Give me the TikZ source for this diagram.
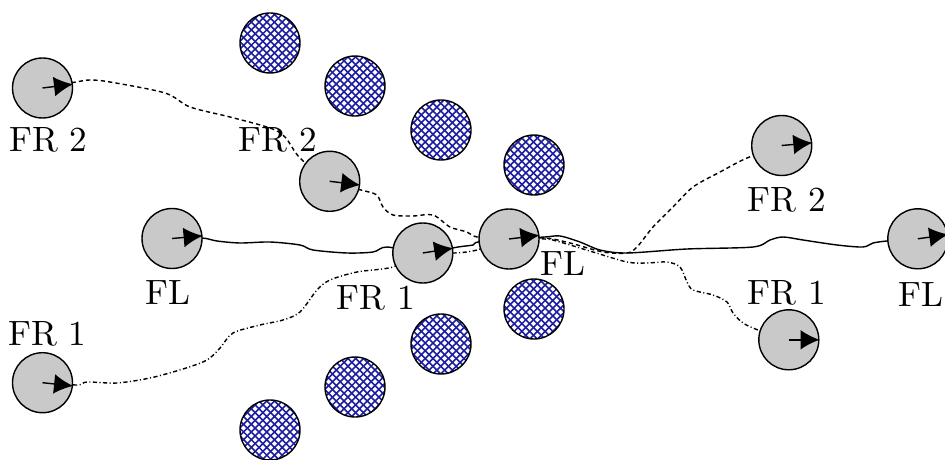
\documentclass[tikz,border=0pt]{standalone}
\usepackage{tikz}
\usetikzlibrary{arrows.meta,patterns,backgrounds}

\definecolor{obstblue}{RGB}{30,30,160}

% fine diagonal cross hatching for the obstacles
\pgfdeclarepatternformonly{fine crosshatch}{\pgfqpoint{-0.5pt}{-0.5pt}}{\pgfqpoint{2.7pt}{2.7pt}}{\pgfqpoint{2.2pt}{2.2pt}}{%
  \pgfsetlinewidth{0.45pt}
  \pgfpathmoveto{\pgfqpoint{0pt}{0pt}}
  \pgfpathlineto{\pgfqpoint{2.2pt}{2.2pt}}
  \pgfpathmoveto{\pgfqpoint{0pt}{2.2pt}}
  \pgfpathlineto{\pgfqpoint{2.2pt}{0pt}}
  \pgfusepath{stroke}}

\begin{document}
\begin{tikzpicture}[
    robot/.style={circle,draw,fill=black!21,minimum size=6mm,inner sep=0pt},
    obstacle/.style={circle,draw,pattern=fine crosshatch,pattern color=obstblue,minimum size=6mm,inner sep=0pt},
    heading/.style={-{Latex[length=5.4pt,width=5.6pt]}},
    trail/.style={smooth,tension=0.5},
    flpath/.style={},
    fronepath/.style={dash pattern=on 1.2pt off 0.7pt on 0.3pt off 0.7pt},
    frtwopath/.style={dash pattern=on 1.2pt off 0.9pt}
]
\useasboundingbox (0,0) rectangle (9.45,4.59);

% obstacles
\node[obstacle] (obs1) at (2.70,4.16) {};
\node[obstacle] (obs2) at (3.55,3.73) {};
\node[obstacle] (obs3) at (4.41,3.29) {};
\node[obstacle] (obs4) at (5.34,2.94) {};
\node[obstacle] (obs5) at (5.34,1.50) {};
\node[obstacle] (obs6) at (4.41,1.15) {};
\node[obstacle] (obs7) at (3.55,0.72) {};
\node[obstacle] (obs8) at (2.70,0.29) {};

% robots: start, middle, end
\node[robot] (fr2a) at (0.425,3.71) {};
\node[robot] (fla) at (1.72,2.205) {};
\node[robot] (fr1a) at (0.425,0.763) {};
\node[robot] (fr2b) at (3.297,2.777) {};
\node[robot] (fr1b) at (4.228,2.06) {};
\node[robot] (flb) at (5.09,2.20) {};
\node[robot] (fr2c) at (7.817,3.135) {};
\node[robot] (flc) at (9.178,2.202) {};
\node[robot] (fr1c) at (7.888,1.192) {};

\draw[heading] (fr2a.center) -- (fr2a.7);
\draw[heading] (fla.center) -- (fla.5);
\draw[heading] (fr1a.center) -- (fr1a.-6);
\draw[heading] (fr2b.center) -- (fr2b.-7);
\draw[heading] (fr1b.center) -- (fr1b.9);
\draw[heading] (flb.center) -- (flb.7);
\draw[heading] (fr2c.center) -- (fr2c.5);
\draw[heading] (flc.center) -- (flc.8);
\draw[heading] (fr1c.center) -- (fr1c.0);

% labels
\node (fr2a-lbl) at (0.485,3.195) {FR 2};
\node (fla-lbl) at (1.68,1.665) {FL};
\node (fr1a-lbl) at (0.475,1.25) {FR 1};
\node (fr2b-lbl) at (2.78,3.19) {FR 2};
\node (fr1b-lbl) at (3.76,1.615) {FR 1};
\node (flb-lbl) at (5.625,1.957) {FL};
\node (fr2c-lbl) at (7.87,2.595) {FR 2};
\node (flc-lbl) at (9.208,1.65) {FL};
\node (fr1c-lbl) at (7.867,1.66) {FR 1};

% trajectories
\begin{scope}[on background layer]
\draw[flpath] plot[trail] coordinates {(fla.center) (2.02,2.21) (2.17,2.18) (2.40,2.16) (2.70,2.17) (3.00,2.14) (3.13,2.09) (3.47,2.06) (3.73,2.07) (3.87,2.12) (fr1b.center) (4.58,2.12) (4.73,2.14) (4.78,2.17) (flb.center) (5.45,2.22) (5.60,2.23) (5.80,2.17) (6.00,2.09) (6.27,2.06) (6.87,2.10) (7.53,2.12) (7.70,2.19) (7.83,2.22) (8.03,2.19) (8.37,2.14) (8.63,2.12) (8.73,2.16) (8.87,2.18) (flc.center)};
\draw[frtwopath] plot[trail] coordinates {(fr2a.center) (0.76,3.77) (0.90,3.79) (1.10,3.77) (1.65,3.66) (1.90,3.52) (2.30,3.42) (2.70,3.31) (2.85,3.22) (3.00,3.01) (fr2b.center) (3.65,2.68) (3.77,2.64) (3.83,2.52) (3.93,2.44) (4.13,2.43) (4.33,2.44) (4.50,2.32) (4.67,2.27) (4.77,2.22) (flb.center) (5.45,2.21) (5.70,2.16) (6.03,2.07) (6.27,2.06) (6.37,2.12) (6.53,2.32) (6.73,2.52) (6.93,2.72) (7.20,2.87) (7.47,3.01) (fr2c.center)};
\draw[fronepath] plot[trail] coordinates {(fr1a.center) (0.77,0.74) (0.87,0.77) (1.17,0.76) (1.50,0.81) (1.83,0.90) (2.07,0.99) (2.20,1.11) (2.33,1.26) (2.60,1.34) (2.83,1.39) (3.00,1.47) (3.17,1.69) (3.30,1.79) (3.57,1.87) (3.93,1.92) (fr1b.center) (4.55,2.06) (4.77,2.09) (flb.center) (5.45,2.20) (5.60,2.17) (5.93,2.07) (6.27,1.97) (6.47,1.96) (6.67,1.97) (6.80,1.92) (6.87,1.77) (6.93,1.69) (7.13,1.64) (7.27,1.57) (7.33,1.46) (7.43,1.36) (7.58,1.29) (fr1c.center)};
\end{scope}

\end{tikzpicture}
\end{document}
